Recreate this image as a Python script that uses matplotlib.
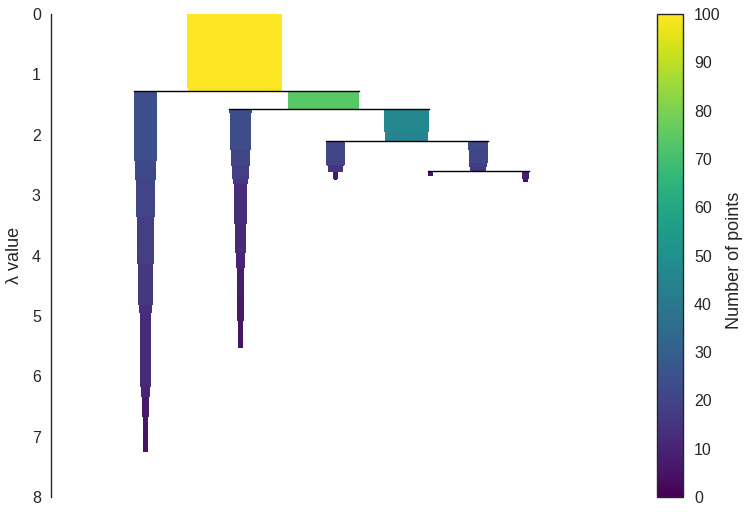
import numpy as np
import matplotlib
matplotlib.use("Agg")
import matplotlib.pyplot as plt
from matplotlib import cm, colors

# condensed tree, one icicle per cluster:
# lambda breakpoints (top to bottom) and the number of points left in each step
root_lambdas = [0.0, 1.23, 1.28]
root_sizes = [100, 99]

c1_lambdas = [1.28, 2.43, 2.75, 3.36, 4.14, 4.82, 4.95, 6.17, 6.34, 6.67, 6.94, 7.26]
c1_sizes = [24, 22, 20, 18, 16, 14, 12, 10, 7, 6, 5]

c2_lambdas = [1.28, 1.58]
c2_sizes = [74]

c3_lambdas = [1.58, 1.64, 2.25, 2.51, 2.73, 2.81, 3.48, 3.96, 4.21, 4.65, 5.08, 5.53]
c3_sizes = [24, 23, 20, 18, 16, 13, 12, 10, 8, 7, 5]

c4_lambdas = [1.58, 1.95, 2.11]
c4_sizes = [47, 45]

c5_lambdas = [2.11, 2.44, 2.50, 2.52, 2.61, 2.73, 2.75]
c5_sizes = [21, 19, 17, 15, 6, 4]

c6_lambdas = [2.11, 2.25, 2.47, 2.54, 2.60]
c6_sizes = [22, 20, 18, 16]

c7_lambdas = [2.60, 2.68]
c7_sizes = [5]

c8_lambdas = [2.60, 2.73, 2.78]
c8_sizes = [8, 5]

# tree structure
splits = {"root": ("c1", "c2"), "c2": ("c3", "c4"), "c4": ("c5", "c6"), "c6": ("c7", "c8")}
leaf_order = ["c1", "c3", "c5", "c7", "c8"]

icicles = {
    "root": (root_lambdas, root_sizes),
    "c1": (c1_lambdas, c1_sizes),
    "c2": (c2_lambdas, c2_sizes),
    "c3": (c3_lambdas, c3_sizes),
    "c4": (c4_lambdas, c4_sizes),
    "c5": (c5_lambdas, c5_sizes),
    "c6": (c6_lambdas, c6_sizes),
    "c7": (c7_lambdas, c7_sizes),
    "c8": (c8_lambdas, c8_sizes),
}


def get_x_coords():
    scaling = root_sizes[0]
    x = {leaf: i for i, leaf in enumerate(leaf_order)}
    # parents sit halfway between their two children, deepest first
    for parent in ["c6", "c4", "c2", "root"]:
        left, right = splits[parent]
        x[parent] = np.mean([x[left], x[right]])
    return {k: v * scaling for k, v in x.items()}


plt.rcParams['font.family'] = ['Liberation Sans', 'DejaVu Sans']
plt.rcParams['text.color'] = '.15'
plt.rcParams['axes.labelcolor'] = '.15'
plt.rcParams['ytick.color'] = '.15'

fig = plt.figure(figsize=(7.49, 5.2), dpi=100)
ax = fig.add_axes([50.5 / 749, 23 / 520, 570 / 749, 483 / 520])
cax = fig.add_axes([657 / 749, 23 / 520, 26 / 749, 483 / 520])

cmap = matplotlib.colormaps['viridis']
norm = colors.Normalize(vmin=0, vmax=root_sizes[0])
x_coords = get_x_coords()

for name, (lambdas, sizes) in icicles.items():
    bottoms = np.array(lambdas[:-1])
    heights = np.diff(lambdas)
    ax.bar([x_coords[name]] * len(sizes), heights, bottom=bottoms, width=sizes,
           color=cmap(norm(np.array(sizes))), linewidth=0, align='center')

for parent, (left, right) in splits.items():
    lam = icicles[left][0][0]
    x0 = x_coords[left] - icicles[left][1][0] / 2.0
    x1 = x_coords[right] + icicles[right][1][0] / 2.0
    ax.plot([x0, x1], [lam, lam], color='black', linewidth=1)

ax.set_xlim(-100, 500)
ax.set_ylim(8, 0)
ax.set_xticks([])
ax.set_yticks(range(0, 9))
ax.tick_params(axis='y', length=0, pad=7, labelsize=11.5)
for side in ['top', 'right', 'bottom']:
    ax.spines[side].set_visible(False)
ax.spines['left'].set_color('.15')
ax.spines['left'].set_linewidth(1)
ax.set_ylabel('λ value', fontsize=13, labelpad=6)

sm = cm.ScalarMappable(cmap=cmap, norm=norm)
sm.set_array([])
cbar = fig.colorbar(sm, cax=cax, ticks=range(0, 101, 10))
cbar.outline.set_edgecolor('.15')
cbar.outline.set_linewidth(1)
cax.tick_params(length=0, pad=8, labelsize=11.5)
cbar.set_label('Number of points', fontsize=13, labelpad=4)
cax.yaxis.label.set_y(0.49)

fig.savefig("out.png", dpi=100)
